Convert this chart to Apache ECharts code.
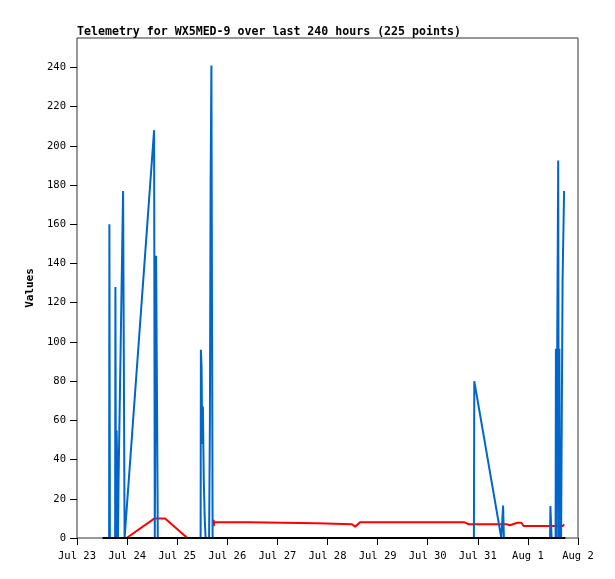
<!DOCTYPE html>
<html>
<head>
<meta charset="utf-8">
<title>Telemetry for WX5MED-9</title>
<script src="https://cdn.jsdelivr.net/npm/echarts@6.0.0/dist/echarts.min.js"></script>
<style>
  html, body { margin: 0; padding: 0; background: #fff; }
  #chart { width: 615px; height: 579px; }
</style>
</head>
<body>
<div id="chart"></div>
<script>
// x ticks (one per day)
var xTickDates = ['2024-07-23 00:00', '2024-07-24 00:00', '2024-07-25 00:00', '2024-07-26 00:00',
    '2024-07-27 00:00', '2024-07-28 00:00', '2024-07-29 00:00', '2024-07-30 00:00',
    '2024-07-31 00:00', '2024-08-01 00:00', '2024-08-02 00:00'];
var xTickLabels = ['Jul 23', 'Jul 24', 'Jul 25', 'Jul 26', 'Jul 27', 'Jul 28',
    'Jul 29', 'Jul 30', 'Jul 31', 'Aug 1', 'Aug 2'];
var yTicks = [0, 20, 40, 60, 80, 100, 120, 140, 160, 180, 200, 220, 240];

// blue channel
var blueTimes = ['2024-07-23 12:16', '2024-07-23 15:23', '2024-07-23 15:31', '2024-07-23 15:46',
    '2024-07-23 18:15', '2024-07-23 18:24', '2024-07-23 18:41', '2024-07-23 18:58',
    '2024-07-23 19:21', '2024-07-23 19:38', '2024-07-23 19:56', '2024-07-23 22:05',
    '2024-07-23 22:48', '2024-07-23 23:31', '2024-07-24 12:56', '2024-07-24 13:16',
    '2024-07-24 13:53', '2024-07-24 14:22', '2024-07-24 14:42', '2024-07-25 11:13',
    '2024-07-25 11:21', '2024-07-25 11:41', '2024-07-25 11:59', '2024-07-25 12:19',
    '2024-07-25 12:44', '2024-07-25 13:13', '2024-07-25 13:36', '2024-07-25 15:17',
    '2024-07-25 15:40', '2024-07-25 16:00', '2024-07-25 16:23', '2024-07-25 16:40',
    '2024-07-25 16:58', '2024-07-30 22:08', '2024-07-30 22:19', '2024-07-31 11:16',
    '2024-07-31 12:07', '2024-07-31 12:30', '2024-08-01 10:36', '2024-08-01 10:47',
    '2024-08-01 11:04', '2024-08-01 11:21', '2024-08-01 13:16', '2024-08-01 13:25',
    '2024-08-01 13:45', '2024-08-01 14:02', '2024-08-01 14:31', '2024-08-01 14:48',
    '2024-08-01 15:05', '2024-08-01 15:20', '2024-08-01 15:37', '2024-08-01 15:54',
    '2024-08-01 16:08', '2024-08-01 16:37', '2024-08-01 17:20'];
var blueValues = [0, 0, 160, 0,
    0, 128, 0, 55,
    33, 0, 31, 177,
    0, 0, 208, 0,
    144, 64, 0, 0,
    96, 87, 48, 67,
    29, 9, 0, 0,
    60, 180, 241, 121,
    0, 0, 80, 0,
    16.5, 0, 0, 16.3,
    8, 0, 0, 96.5,
    0, 96.5, 192.5, 0,
    96.5, 0, 44, 0,
    44, 132, 177];

// red channel (null = gap)
var redTimes = ['2024-07-23 23:46', '2024-07-24 13:10', '2024-07-24 18:12', '2024-07-25 04:53',
    '2024-07-25 10:00',
    '2024-07-25 17:30', '2024-07-25 17:33', '2024-07-25 17:40', '2024-07-26 10:26',
    '2024-07-26 10:30', '2024-07-27 18:58', '2024-07-27 19:05', '2024-07-28 11:46',
    '2024-07-28 13:12', '2024-07-28 15:36', '2024-07-30 17:40', '2024-07-30 17:50',
    '2024-07-30 19:41', '2024-07-30 20:02', '2024-07-30 20:31', '2024-07-31 12:50',
    '2024-07-31 13:19', '2024-07-31 13:48', '2024-07-31 14:17', '2024-07-31 15:22',
    '2024-07-31 19:00', '2024-07-31 20:53', '2024-07-31 21:22', '2024-07-31 21:55',
    '2024-08-01 16:48', '2024-08-01 17:17'];
var redValues = [0, 10, 10, 0,
    null,
    9.3, 6, 8, 8,
    7.5, 7.5, 7, 7,
    5.8, 8, 8, 7,
    7, 7.8, 7, 7,
    6.1, 7, 6.1, 6.5,
    7.8, 7.8, 7, 6.1,
    6.1, 7];

// black channel
var zeroTimes = ['2024-07-23 12:16', '2024-08-01 17:58'];
var zeroValues = [0, 0];

function toTs(s) {
    return new Date(s.replace(' ', 'T')).getTime();
}
function pairs(times, values) {
    var out = [];
    for (var i = 0; i < times.length; i++) {
        out.push([toTs(times[i]), values[i]]);
    }
    return out;
}

var xTickTs = [];
for (var i = 0; i < xTickDates.length; i++) {
    xTickTs.push(toTs(xTickDates[i]));
}

var monoFont = '"DejaVu Sans Mono", monospace';

var option = {
    animation: false,
    backgroundColor: '#fff',
    title: {
        text: 'Telemetry for WX5MED-9 over last 240 hours (225 points)',
        left: 72,
        top: 21,
        textStyle: {
            fontFamily: monoFont,
            fontWeight: 'bold',
            fontSize: 11.6,
            color: '#000'
        }
    },
    grid: {
        left: 77,
        right: 37,
        top: 38,
        bottom: 41,
        show: true,
        borderColor: '#333',
        borderWidth: 1,
        backgroundColor: '#fff'
    },
    xAxis: {
        type: 'value',
        min: xTickTs[0],
        max: xTickTs[xTickTs.length - 1],
        axisLine: { show: false },
        splitLine: { show: false },
        axisTick: {
            show: true,
            length: 7,
            customValues: xTickTs,
            lineStyle: { color: '#000' }
        },
        axisLabel: {
            customValues: xTickTs,
            margin: 13,
            fontFamily: monoFont,
            fontSize: 10.5,
            color: '#000',
            formatter: function (v) {
                var idx = xTickTs.indexOf(v);
                return idx >= 0 ? xTickLabels[idx] : '';
            }
        }
    },
    yAxis: {
        type: 'value',
        min: 0,
        max: 255,
        interval: 20,
        name: 'Values',
        nameLocation: 'middle',
        nameGap: 39,
        nameRotate: 90,
        nameTextStyle: {
            fontFamily: monoFont,
            fontWeight: 'bold',
            fontSize: 11,
            color: '#000'
        },
        axisLine: { show: false },
        splitLine: { show: false },
        axisTick: {
            show: true,
            length: 7,
            customValues: yTicks,
            lineStyle: { color: '#000' }
        },
        axisLabel: {
            customValues: yTicks,
            margin: 11,
            fontFamily: monoFont,
            fontSize: 10.5,
            color: '#000'
        }
    },
    series: [
        {
            name: 'red',
            type: 'line',
            data: pairs(redTimes, redValues),
            showSymbol: false,
            connectNulls: false,
            lineStyle: { color: '#ff0000', width: 2 },
            itemStyle: { color: '#ff0000' }
        },
        {
            name: 'blue',
            type: 'line',
            data: pairs(blueTimes, blueValues),
            showSymbol: false,
            lineStyle: { color: '#0066cc', width: 2 },
            itemStyle: { color: '#0066cc' }
        },
        {
            name: 'black',
            type: 'line',
            data: pairs(zeroTimes, zeroValues),
            showSymbol: false,
            lineStyle: { color: '#000', width: 2 },
            itemStyle: { color: '#000' }
        }
    ]
};

var myChart = echarts.init(document.getElementById('chart'));
myChart.setOption(option);
</script>
</body>
</html>
